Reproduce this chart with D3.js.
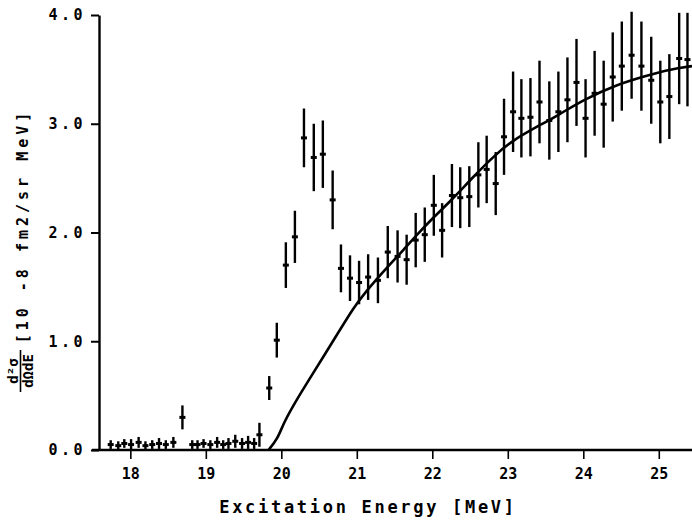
<!DOCTYPE html>
<html>
<head>
<meta charset="utf-8">
<script src="https://cdn.jsdelivr.net/npm/d3@7"></script>
<style>
  html, body { margin: 0; padding: 0; background: #fff; }
  svg { display: block; background: #fff; }
  text { font-family: "DejaVu Sans Mono", monospace; font-weight: bold; fill: #000; }
</style>
</head>
<body>
<svg id="chart" width="692" height="521"></svg>
<script>
// Measured double-differential cross section vs excitation energy
const energies = [
  17.74, 17.84, 17.92, 18.01, 18.11, 18.20, 18.29, 18.38, 18.47, 18.57,
  18.69, 18.82, 18.89, 18.97, 19.06, 19.15, 19.23, 19.30, 19.39, 19.48,
  19.56, 19.64, 19.71,
  19.84, 19.94, 20.06, 20.18, 20.30, 20.43, 20.55, 20.68, 20.79, 20.91,
  21.03, 21.15, 21.28, 21.41, 21.54, 21.66, 21.78, 21.90, 22.02, 22.13,
  22.26, 22.37, 22.49, 22.61, 22.72, 22.84, 22.95, 23.07, 23.18, 23.30,
  23.42, 23.55, 23.67, 23.79, 23.91, 24.03, 24.15, 24.27, 24.39, 24.51,
  24.64, 24.77, 24.90, 25.02, 25.14, 25.27, 25.38
];
const values = [
  0.05, 0.04, 0.06, 0.05, 0.07, 0.04, 0.05, 0.06, 0.05, 0.07,
  0.30, 0.05, 0.05, 0.06, 0.05, 0.07, 0.05, 0.06, 0.08, 0.06,
  0.07, 0.06, 0.14,
  0.57, 1.01, 1.70, 1.96, 2.87, 2.69, 2.72, 2.30, 1.67, 1.58,
  1.54, 1.59, 1.56, 1.82, 1.78, 1.75, 1.93, 1.98, 2.25, 2.02,
  2.34, 2.32, 2.33, 2.53, 2.58, 2.45, 2.88, 3.11, 3.05, 3.06,
  3.20, 3.03, 3.11, 3.22, 3.38, 3.05, 3.28, 3.18, 3.43, 3.53,
  3.63, 3.53, 3.40, 3.20, 3.25, 3.60, 3.59
];
const errors = [
  0.04, 0.04, 0.04, 0.05, 0.05, 0.04, 0.04, 0.05, 0.04, 0.05,
  0.11, 0.04, 0.04, 0.04, 0.04, 0.05, 0.04, 0.05, 0.06, 0.05,
  0.06, 0.05, 0.11,
  0.11, 0.16, 0.21, 0.24, 0.27, 0.31, 0.31, 0.27, 0.22, 0.21,
  0.20, 0.21, 0.21, 0.24, 0.24, 0.23, 0.25, 0.25, 0.28, 0.25,
  0.29, 0.28, 0.28, 0.30, 0.31, 0.29, 0.35, 0.37, 0.36, 0.36,
  0.38, 0.36, 0.37, 0.39, 0.40, 0.36, 0.39, 0.40, 0.41, 0.41,
  0.40, 0.41, 0.40, 0.38, 0.39, 0.42, 0.43
];

// Smooth fitted curve
const curveEnergies = [19.83, 19.95, 20.03, 20.21, 20.38, 20.80, 20.95, 21.11, 21.40, 21.62,
  21.81, 22.03, 22.23, 22.54, 22.81, 23.07, 23.38, 23.67, 24.00, 24.44, 24.83, 25.14, 25.44];
const curveValues = [0.00, 0.10, 0.25, 0.47, 0.66, 1.13, 1.30, 1.45, 1.68, 1.84,
  1.99, 2.15, 2.28, 2.51, 2.70, 2.85, 2.97, 3.08, 3.22, 3.36, 3.44, 3.50, 3.53];

const xTicks = [18, 19, 20, 21, 22, 23, 24, 25];
const yTicks = [0, 1, 2, 3, 4];
const yTickLabels = ["0.0", "1.0", "2.0", "3.0", "4.0"];

const W = 692, H = 521;
const svg = d3.select("#chart");

const x = d3.scaleLinear().domain([17.585, 25.44]).range([99, 692]);
const y = d3.scaleLinear().domain([0, 4]).range([450, 15]);

// x axis (baseline runs slightly past the y axis on the left)
svg.append("line")
  .attr("x1", x(17.585) - 7).attr("x2", W)
  .attr("y1", y(0)).attr("y2", y(0))
  .attr("stroke", "#000").attr("stroke-width", 2.4);
const xAxis = svg.append("g")
  .attr("transform", `translate(0,${y(0)})`)
  .call(d3.axisBottom(x).tickValues(xTicks).tickFormat(d3.format("d"))
    .tickSize(9).tickSizeOuter(0).tickPadding(9));
xAxis.select(".domain").remove();
xAxis.selectAll(".tick line").attr("stroke", "#000").attr("stroke-width", 1.6);
xAxis.selectAll(".tick text").style("font-size", "15px");

// y axis
const yAxis = svg.append("g")
  .attr("transform", `translate(${x(17.585)},0)`)
  .call(d3.axisLeft(y).tickValues(yTicks).tickFormat((d, i) => yTickLabels[i])
    .tickSize(8).tickSizeOuter(0).tickPadding(5));
yAxis.select(".domain").attr("stroke", "#000").attr("stroke-width", 2.4);
yAxis.selectAll(".tick line").attr("stroke", "#000").attr("stroke-width", 2);
yAxis.selectAll(".tick text").style("font-size", "15px").style("letter-spacing", "3.5px");

// fitted curve
const line = d3.line()
  .x((d, i) => x(curveEnergies[i]))
  .y(d => y(d))
  .curve(d3.curveBasis);
svg.append("path")
  .datum(curveValues)
  .attr("d", line)
  .attr("fill", "none")
  .attr("stroke", "#000")
  .attr("stroke-width", 2.6);

// error bars with centre markers
const pts = energies.map((e, i) => ({ e, v: values[i], err: errors[i] }));
const bars = svg.append("g");
bars.selectAll("line")
  .data(pts)
  .join("line")
  .attr("x1", d => x(d.e)).attr("x2", d => x(d.e))
  .attr("y1", d => y(d.v - d.err)).attr("y2", d => y(d.v + d.err))
  .attr("stroke", "#000").attr("stroke-width", 2.4);
bars.selectAll("rect")
  .data(pts)
  .join("rect")
  .attr("x", d => x(d.e) - 3).attr("y", d => y(d.v) - 1.5)
  .attr("width", 6).attr("height", 3)
  .attr("fill", "#000");

// axis titles
svg.append("text")
  .attr("x", 368).attr("y", 513)
  .attr("text-anchor", "middle")
  .style("font-size", "17px").style("letter-spacing", "2.7px")
  .text("Excitation Energy [MeV]");

svg.append("text")
  .attr("transform", "translate(28,226) rotate(-90)")
  .attr("text-anchor", "middle")
  .style("font-size", "15px").style("letter-spacing", "4px")
  .text("[10 -8 fm2/sr MeV]");

const frac = svg.append("g").attr("transform", "translate(20.5,371) rotate(-90)");
frac.append("text").attr("x", 0).attr("y", -2.5).attr("text-anchor", "middle")
  .style("font-size", "14px").text("d²σ");
frac.append("line").attr("x1", -21).attr("x2", 21).attr("y1", 0).attr("y2", 0)
  .attr("stroke", "#000").attr("stroke-width", 1.6);
frac.append("text").attr("x", 0).attr("y", 12).attr("text-anchor", "middle")
  .style("font-size", "14px").text("dΩdE");
</script>
</body>
</html>
